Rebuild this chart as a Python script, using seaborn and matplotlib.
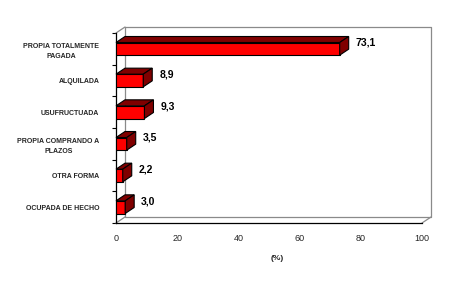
import matplotlib
matplotlib.use("Agg")
import matplotlib.pyplot as plt
from matplotlib.patches import Polygon
from matplotlib.lines import Line2D
import seaborn as sns
import pandas as pd

categories = ["PROPIA TOTALMENTE\nPAGADA", "ALQUILADA", "USUFRUCTUADA",
              "PROPIA COMPRANDO A\nPLAZOS", "OTRA FORMA", "OCUPADA DE HECHO"]
values = [73.1, 8.9, 9.3, 3.5, 2.2, 3.0]
value_labels = ["73,1", "8,9", "9,3", "3,5", "2,2", "3,0"]
x_ticks = [0, 20, 40, 60, 80, 100]
x_label = "(%)"

sns.set_theme(style="white")
plt.rcParams["font.family"] = ["Liberation Sans", "DejaVu Sans"]

W, H = 452, 288
fig = plt.figure(figsize=(W / 100, H / 100), dpi=100)
fig.patch.set_facecolor("white")
ax_l, ax_r, ax_t, ax_b = 116, 422, 33, 223
ax = fig.add_axes([ax_l / W, 1 - ax_b / H, (ax_r - ax_l) / W, (ax_b - ax_t) / H])
ax.set_facecolor("none")

df = pd.DataFrame({"cat": categories, "val": values})
sns.barplot(data=df, x="val", y="cat", orient="h", color="#FF0000",
            saturation=1, width=0.4, edgecolor="black", linewidth=0.8, ax=ax, zorder=3)

ax.set_xlim(0, 100)
ax.set_ylim(len(categories) - 0.5, -0.5)

# pixel depth converted to data units
dpx, dpy = 9, 6
ddx = dpx / (ax_r - ax_l) * 100
ddy = -dpy / (ax_b - ax_t) * len(categories)

# back wall / floor lines
grey = "#8a8a8a"
y_top, y_bot = -0.5, len(categories) - 0.5
wall = [
    ([ddx, 100 + ddx, 100 + ddx, ddx, ddx], [y_top + ddy, y_top + ddy, y_bot + ddy, y_bot + ddy, y_top + ddy]),
    ([0, ddx], [y_top, y_top + ddy]),
    ([0, ddx], [y_bot, y_bot + ddy]),
    ([100, 100 + ddx], [y_bot, y_bot + ddy]),
]
for xs, ys in wall:
    ax.add_line(Line2D(xs, ys, color=grey, lw=0.9, clip_on=False, zorder=1))

# 3D faces
bar_patches = [p for p in ax.patches]
for p in bar_patches:
    x0 = p.get_x()
    x1 = x0 + p.get_width()
    yt = p.get_y()
    yb = yt + p.get_height()
    top = Polygon([(x0, yt), (x1, yt), (x1 + ddx, yt + ddy), (x0 + ddx, yt + ddy)],
                  closed=True, facecolor="#800000", edgecolor="black", lw=0.8,
                  clip_on=False, zorder=3)
    side = Polygon([(x1, yt), (x1 + ddx, yt + ddy), (x1 + ddx, yb + ddy), (x1, yb)],
                   closed=True, facecolor="#800000", edgecolor="black", lw=0.8,
                   clip_on=False, zorder=3)
    ax.add_patch(top)
    ax.add_patch(side)

for i, (v, lab) in enumerate(zip(values, value_labels)):
    ax.annotate(lab, xy=(v + ddx, i), xytext=(7 * 0.72, 6 * 0.72),
                textcoords="offset points", ha="left", va="center",
                fontsize=7.5, fontweight="bold", color="black", annotation_clip=False)

# spines
for s in ["top", "right"]:
    ax.spines[s].set_visible(False)
for s in ["left", "bottom"]:
    ax.spines[s].set_color("black")
    ax.spines[s].set_linewidth(0.9)

ax.set_xticks(x_ticks)
ax.set_xticklabels([str(t) for t in x_ticks], fontsize=6.5)
ax.tick_params(axis="x", length=0, pad=8)
ax.set_yticks(range(len(categories)))
ax.set_yticklabels(categories, fontsize=5, fontweight="bold",
                   multialignment="center", linespacing=1.7)
ax.tick_params(axis="y", which="major", length=0, pad=12)
ax.set_yticks([i - 0.5 for i in range(len(categories) + 1)], minor=True)
ax.tick_params(axis="y", which="minor", length=3, width=0.8, color="black", left=True)
ax.set_xlabel("")
ax.set_ylabel("")

fig.text(277 / W, 1 - 259 / H, x_label, ha="center", va="center",
         fontsize=6, fontweight="bold")

fig.savefig("out.png", dpi=100, facecolor="white")
